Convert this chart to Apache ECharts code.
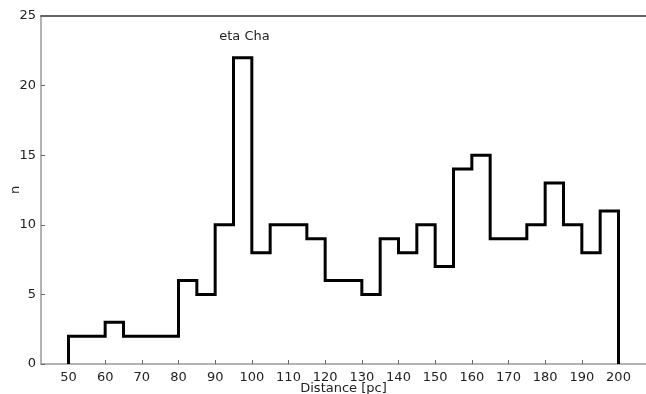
<!DOCTYPE html>
<html><head><meta charset="utf-8">
<script src="https://cdn.jsdelivr.net/npm/echarts@6/dist/echarts.min.js"></script>
<style>html,body{margin:0;padding:0;background:#fff}#c{width:646px;height:394px}</style>
</head><body><div id="c"></div>
<script>
var binEdges = [50,55,60,65,70,75,80,85,90,95,100,105,110,115,120,125,130,135,140,145,150,155,160,165,170,175,180,185,190,195,200];
var counts = [2,2,3,2,2,2,6,5,10,22,8,10,10,9,6,6,5,9,8,10,7,14,15,9,9,10,13,10,8,11];
var xTicks = [50,60,70,80,90,100,110,120,130,140,150,160,170,180,190,200];
var yTicks = [0,5,10,15,20,25];
var annotation = {text:'eta Cha', x:98, y:23.5};

var outline = [[binEdges[0],0]];
for (var i=0;i<counts.length;i++){ outline.push([binEdges[i],counts[i]]); outline.push([binEdges[i+1],counts[i]]); }
outline.push([binEdges[binEdges.length-1],0]);

var font = 'DejaVu Sans';
var chart = echarts.init(document.getElementById('c'));
chart.setOption({
  animation:false,
  grid:{left:41,right:0,top:16,bottom:30,containLabel:false,outerBoundsMode:'none'},
  xAxis:[{type:'value',min:42.5,max:207.5,position:'bottom',
    name:'Distance [pc]',nameLocation:'middle',nameGap:18,nameMoveOverlap:false,
    nameTextStyle:{fontFamily:font,fontSize:13,color:'#222'},
    axisLine:{show:true,lineStyle:{color:'#999',width:1.5}},
    axisTick:{show:true,inside:true,length:4,customValues:xTicks,lineStyle:{color:'#666'}},
    axisLabel:{customValues:xTicks,fontFamily:font,fontSize:13,color:'#222',margin:7},
    splitLine:{show:false}},
    {type:'value',min:42.5,max:207.5,position:'top',
    axisLine:{show:true,lineStyle:{color:'#333',width:1.5}},
    axisTick:{show:false},axisLabel:{show:false},splitLine:{show:false}}],
  yAxis:{type:'value',min:0,max:25,interval:5,
    name:'n',nameLocation:'middle',nameGap:19,nameMoveOverlap:false,
    nameTextStyle:{fontFamily:font,fontSize:13,color:'#222'},
    axisLine:{show:true,lineStyle:{color:'#999',width:1.5}},
    axisTick:{show:true,inside:true,length:4,lineStyle:{color:'#666'}},
    axisLabel:{fontFamily:font,fontSize:13,color:'#222',margin:5},
    splitLine:{show:false}},
  series:[{type:'line',data:outline,symbol:'none',xAxisIndex:0,
    lineStyle:{color:'#000',width:3,join:'miter'},z:3,
    markPoint:{symbolSize:0,data:[{coord:[annotation.x,annotation.y],value:annotation.text}],
      label:{show:true,formatter:annotation.text,fontFamily:font,fontSize:13,color:'#222',position:'inside'}}}]
});
</script></body></html>
